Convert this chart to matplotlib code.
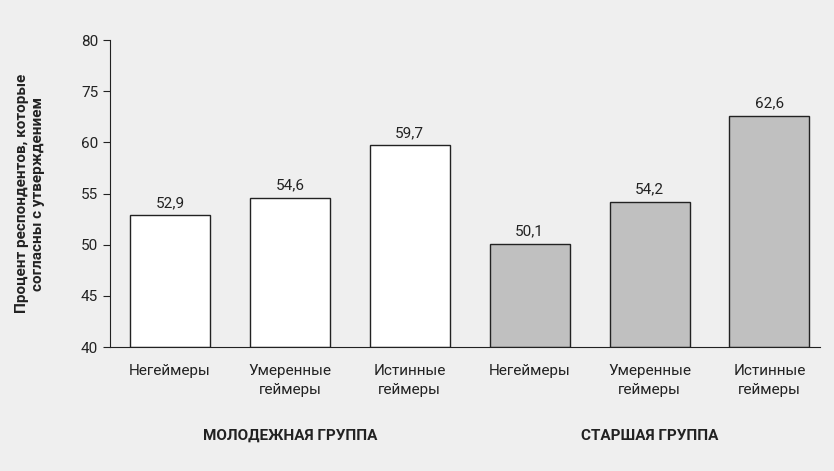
import matplotlib
matplotlib.use("Agg")
import matplotlib.pyplot as plt

plt.rcParams["font.family"] = "Roboto"

categories = ["Негеймеры", "Умеренные\nгеймеры", "Истинные\nгеймеры",
              "Негеймеры", "Умеренные\nгеймеры", "Истинные\nгеймеры"]
values = [52.9, 54.6, 59.7, 50.1, 54.2, 62.6]
value_labels = ["52,9", "54,6", "59,7", "50,1", "54,2", "62,6"]
groups = ["МОЛОДЕЖНАЯ ГРУППА", "СТАРШАЯ ГРУППА"]
tick_values = [40, 45, 50, 55, 60, 65, 70]
tick_labels = ["40", "45", "50", "55", "60", "75", "80"]

bg = "#efefef"
fig = plt.figure(figsize=(8.34, 4.71), dpi=100, facecolor=bg)
ax = fig.add_axes([0.132, 0.263, 0.851, 0.652], facecolor=bg)
colors = ["white"] * 3 + ["#c0c0c0"] * 3
x = list(range(len(values)))
ax.bar(x, [v - 40 for v in values], bottom=40, width=0.667, color=colors,
       edgecolor="#222222", linewidth=1.0)
for xi, v, lab in zip(x, values, value_labels):
    ax.text(xi, v + 0.5, lab, ha="center", va="bottom", fontsize=11, color="#222222")
ax.set_ylim(40, 70)
ax.set_xlim(-0.5, 5.42)
ax.set_yticks(tick_values)
ax.set_yticklabels(tick_labels, fontsize=11, color="#222222")
ax.set_xticks(x)
ax.set_xticklabels(categories, fontsize=11, color="#222222", linespacing=1.5)
ax.tick_params(axis="x", length=0, pad=12)
ax.tick_params(axis="y", length=5, color="#222222")
for s in ["top", "right"]:
    ax.spines[s].set_visible(False)
ax.spines["left"].set_color("#222222")
ax.spines["bottom"].set_color("#222222")
ax.set_ylabel("Процент респондентов, которые\nсогласны с утверждением",
              fontsize=11, fontweight="bold", color="#222222", labelpad=26)
for gi, g in enumerate(groups):
    ax.text(1 + 3 * gi, -0.29, g, transform=ax.get_xaxis_transform(),
            ha="center", va="center", fontsize=11, fontweight="bold", color="#222222")
fig.savefig("out.png", dpi=100, facecolor=bg)
